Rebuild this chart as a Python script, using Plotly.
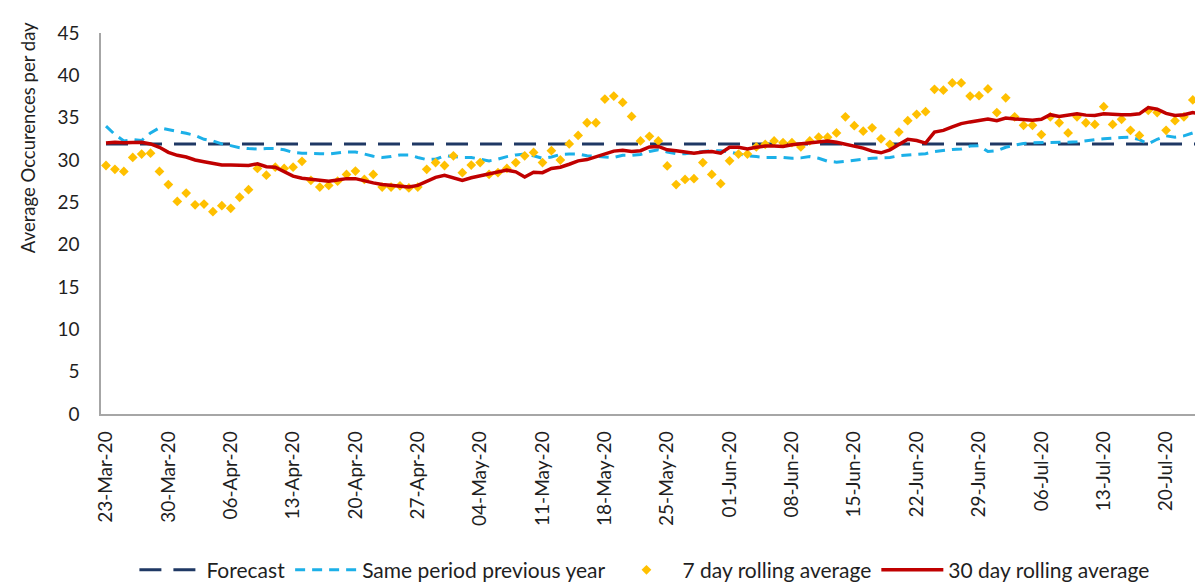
import pandas as pd
import plotly.graph_objects as go

start_date = "2020-03-23"
n_days = 125
dates = pd.date_range(start_date, periods=n_days, freq="D")

forecast_value = 31.9
forecast = [forecast_value] * n_days

previous_year = [
    34.0, 33.0, 32.25, 32.4, 32.3, 33.2, 33.8, 33.6, 33.35, 33.15,
    32.9, 32.45, 32.25, 31.9, 31.7, 31.45, 31.35, 31.3, 31.35, 31.35,
    31.2, 30.9, 30.8, 30.8, 30.75, 30.7, 30.85, 30.95, 30.95, 30.7,
    30.45, 30.3, 30.4, 30.6, 30.6, 30.3, 30.05, 30.1, 30.5, 30.4,
    30.3, 30.3, 30.1, 29.9, 30.1, 30.4, 30.6, 30.7, 30.5, 30.2,
    30.35, 30.65, 30.7, 30.7, 30.5, 30.4, 30.35, 30.3, 30.55, 30.55,
    30.65, 31.0, 31.2, 30.95, 30.75, 30.75, 30.9, 31.0, 31.1, 31.1,
    30.95, 30.7, 30.5, 30.4, 30.3, 30.3, 30.3, 30.2, 30.25, 30.4,
    30.2, 29.85, 29.75, 29.85, 30.0, 30.1, 30.2, 30.25, 30.3, 30.5,
    30.6, 30.65, 30.75, 31.0, 31.15, 31.25, 31.3, 31.65, 31.7, 31.0,
    31.1, 31.5, 31.75, 31.95, 32.05, 32.05, 32.05, 32.1, 32.1, 32.15,
    32.3, 32.4, 32.5, 32.6, 32.65, 32.7, 32.4, 31.9, 32.45, 32.85,
    32.7, 32.85, 33.2, 33.4, 34.0,
]

rolling_7 = [
    29.35, 28.9, 28.65, 30.3, 30.7, 30.8, 28.65, 27.1, 25.1, 26.1,
    24.7, 24.8, 23.9, 24.6, 24.3, 25.6, 26.5, 29.0, 28.2, 29.15,
    29.0, 29.15, 29.85, 27.6, 26.8, 27.0, 27.5, 28.3, 28.7, 27.7,
    28.3, 26.8, 26.8, 26.95, 26.7, 26.8, 28.9, 29.7, 29.35, 30.5,
    28.5, 29.4, 29.7, 28.3, 28.5, 29.0, 29.7, 30.5, 30.9, 29.7,
    31.1, 30.0, 31.9, 32.9, 34.4, 34.4, 37.2, 37.55, 36.8, 35.15,
    32.25, 32.8, 32.25, 29.3, 27.1, 27.7, 27.8, 29.7, 28.3, 27.2,
    29.9, 30.7, 30.7, 31.55, 31.85, 32.25, 32.05, 32.05, 31.55, 32.25,
    32.7, 32.7, 33.2, 35.1, 34.05, 33.4, 33.8, 32.5, 31.85, 33.3,
    34.65, 35.4, 35.7, 38.35, 38.25, 39.1, 39.1, 37.55, 37.6, 38.4,
    35.6, 37.35, 35.1, 34.1, 34.1, 33.0, 35.1, 34.4, 33.2, 35.1,
    34.4, 34.2, 36.3, 34.2, 34.8, 33.5, 32.9, 35.85, 35.6, 33.5,
    34.65, 35.1, 37.1, 38.6, 35.35,
]

rolling_30 = [
    32.0, 32.1, 32.05, 32.1, 32.1, 31.9, 31.5, 30.9, 30.55, 30.35,
    30.0, 29.8, 29.6, 29.4, 29.4, 29.35, 29.35, 29.55, 29.2, 29.15,
    28.65, 28.1, 27.85, 27.7, 27.55, 27.5, 27.65, 27.8, 27.8, 27.5,
    27.3, 27.1, 27.0, 26.95, 26.8, 27.0, 27.5, 27.95, 28.2, 27.95,
    27.6, 27.9, 28.15, 28.35, 28.65, 28.8, 28.6, 28.0, 28.55, 28.5,
    29.0, 29.15, 29.5, 29.9, 30.05, 30.35, 30.7, 31.05, 31.15, 31.0,
    31.1, 31.55, 31.6, 31.2, 31.1, 31.0, 30.8, 30.95, 31.0, 30.8,
    31.5, 31.5, 31.3, 31.5, 31.65, 31.65, 31.6, 31.8, 31.9, 32.0,
    32.05, 32.25, 32.1, 31.9, 31.7, 31.4, 31.05, 30.85, 31.2, 31.8,
    32.45, 32.3, 32.0, 33.3, 33.5, 33.9, 34.3, 34.5, 34.7, 34.85,
    34.65, 34.95, 34.85, 34.8, 34.7, 34.8, 35.35, 35.15, 35.35, 35.45,
    35.3, 35.25, 35.45, 35.35, 35.35, 35.35, 35.45, 36.2, 36.0, 35.5,
    35.25, 35.35, 35.6, 35.45, 35.45,
]

tick_values = pd.date_range(start_date, "2020-07-20", freq="7D")
tick_labels = [d.strftime("%d-%b-%y") for d in tick_values]

series_names = ["Forecast", "Same period previous year",
                "7 day rolling average", "30 day rolling average"]
y_title = "Average Occurences per day"

FONT = "Lato"
TXT = "#1F1F1F"

fig = go.Figure()
fig.add_trace(go.Scatter(
    x=dates, y=forecast, name=series_names[0], mode="lines",
    line=dict(color="#1F3864", width=3, dash="22px,12px"),
))
fig.add_trace(go.Scatter(
    x=dates, y=previous_year, name=series_names[1], mode="lines",
    line=dict(color="#1CB0E8", width=3, dash="10px,7px"),
))
fig.add_trace(go.Scatter(
    x=dates, y=rolling_7, name=series_names[2], mode="markers",
    marker=dict(symbol="diamond", size=7.5, color="#FFC000",
                line=dict(width=0)),
))
fig.add_trace(go.Scatter(
    x=dates, y=rolling_30, name=series_names[3], mode="lines",
    line=dict(color="#C00000", width=3.5),
))

fig.update_layout(
    width=1203, height=583,
    margin=dict(l=93, r=0, t=25, b=170),
    paper_bgcolor="white", plot_bgcolor="white",
    font=dict(family=FONT, color=TXT, size=19),
    showlegend=True,
    legend=dict(orientation="h", x=0.49, xanchor="center",
                y=-0.41, yanchor="middle",
                font=dict(family=FONT, size=21, color=TXT),
                itemwidth=62, bgcolor="rgba(0,0,0,0)"),
    annotations=[dict(
        text=y_title, textangle=-90, showarrow=False,
        xref="paper", yref="paper", x=0, xshift=-73, xanchor="center",
        y=0.724, yanchor="middle",
        font=dict(family=FONT, size=18.5, color=TXT),
    )],
)

fig.update_xaxes(
    type="date",
    range=["2020-03-22 10:30", "2020-07-25 01:00"],
    tickmode="array", tickvals=tick_values, ticktext=tick_labels,
    tickangle=-90, ticks="", ticklabelstandoff=8,
    showgrid=False, zeroline=False,
    showline=True, linecolor="#A6A6A6", linewidth=1.5,
    tickfont=dict(family=FONT, size=19, color=TXT),
)
fig.update_yaxes(
    range=[0, 45], dtick=5, tick0=0,
    ticks="", ticklabelstandoff=16,
    showgrid=False, zeroline=False,
    showline=True, linecolor="#A6A6A6", linewidth=1.5,
    tickfont=dict(family=FONT, size=19, color=TXT),
)

fig.write_html("out.html")
